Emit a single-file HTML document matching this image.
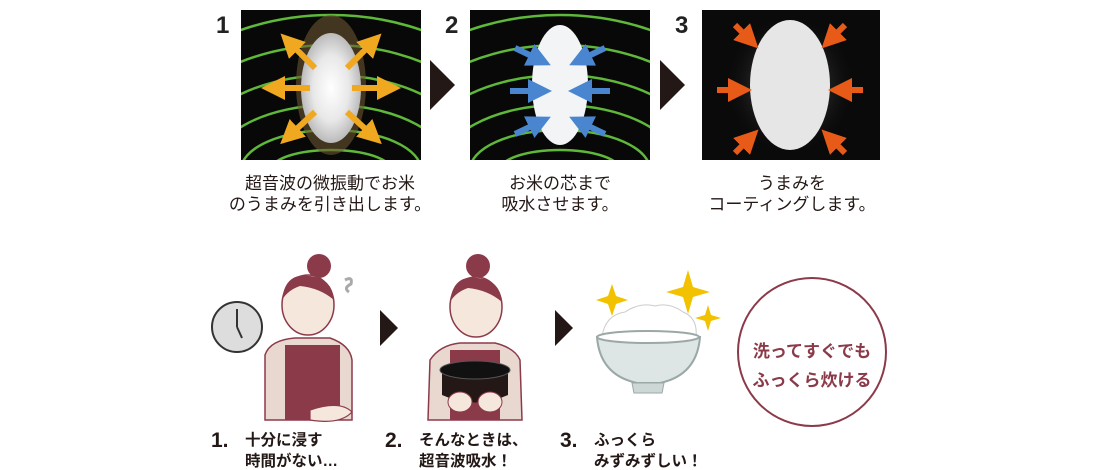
<!DOCTYPE html>
<html><head><meta charset="utf-8"><style>
html,body{margin:0;padding:0;background:#fff;}
svg{display:block;}
text{font-family:"Liberation Sans","Noto Sans CJK JP",sans-serif;}
</style></head><body>
<svg width="1100" height="470" viewBox="0 0 1100 470" xmlns="http://www.w3.org/2000/svg">
<defs>
<radialGradient id="g1" cx="50%" cy="50%" r="50%"><stop offset="0" stop-color="#fff"/><stop offset="0.6" stop-color="#e8e8e8"/><stop offset="1" stop-color="#bbb"/></radialGradient>
<radialGradient id="glow" cx="50%" cy="50%" r="50%"><stop offset="0" stop-color="#777"/><stop offset="1" stop-color="#000" stop-opacity="0"/></radialGradient>
<clipPath id="c1"><rect x="241" y="10" width="180" height="150"/></clipPath>
<clipPath id="c2"><rect x="470" y="10" width="180" height="150"/></clipPath>
<marker id="ao" markerWidth="4" markerHeight="4" refX="2" refY="2" orient="auto"><path d="M0 0 L4 2 L0 4 Z" fill="#f0a820"/></marker>
<marker id="ab" markerWidth="4" markerHeight="4" refX="2" refY="2" orient="auto"><path d="M0 0 L4 2 L0 4 Z" fill="#4a86d0"/></marker>
<marker id="ar" markerWidth="4" markerHeight="4" refX="2" refY="2" orient="auto"><path d="M0 0 L4 2 L0 4 Z" fill="#e85a18"/></marker>
</defs>
<text x="216" y="33" font-size="24" font-weight="bold" fill="#222">1</text>
<text x="445" y="33" font-size="24" font-weight="bold" fill="#222">2</text>
<text x="675" y="33" font-size="24" font-weight="bold" fill="#222">3</text>
<!-- panel1 -->
<rect x="241" y="10" width="180" height="150" fill="#080808"/>
<g clip-path="url(#c1)" fill="none" stroke="#5fb83a" stroke-width="2.5">
<ellipse cx="331" cy="170" rx="60" ry="20"/><ellipse cx="331" cy="170" rx="90" ry="40"/><ellipse cx="331" cy="170" rx="120" ry="65"/><ellipse cx="331" cy="170" rx="150" ry="95"/><ellipse cx="331" cy="170" rx="180" ry="125"/><ellipse cx="331" cy="170" rx="210" ry="155"/>
</g>
<ellipse cx="331" cy="85" rx="35" ry="70" fill="#6b5530" opacity="0.6"/>
<ellipse cx="331" cy="88" rx="30" ry="55" fill="url(#g1)"/>
<g stroke="#f0a820" stroke-width="6">
<line x1="315" y1="68" x2="289" y2="42" marker-end="url(#ao)"/><line x1="347" y1="68" x2="373" y2="42" marker-end="url(#ao)"/>
<line x1="310" y1="88" x2="273" y2="88" marker-end="url(#ao)"/><line x1="352" y1="88" x2="389" y2="88" marker-end="url(#ao)"/>
<line x1="315" y1="112" x2="289" y2="136" marker-end="url(#ao)"/><line x1="347" y1="112" x2="373" y2="136" marker-end="url(#ao)"/>
</g>
<!-- panel2 -->
<rect x="470" y="10" width="180" height="150" fill="#080808"/>
<g clip-path="url(#c2)" fill="none" stroke="#5fb83a" stroke-width="2.5">
<ellipse cx="560" cy="170" rx="60" ry="20"/><ellipse cx="560" cy="170" rx="90" ry="40"/><ellipse cx="560" cy="170" rx="120" ry="65"/><ellipse cx="560" cy="170" rx="150" ry="95"/><ellipse cx="560" cy="170" rx="180" ry="125"/><ellipse cx="560" cy="170" rx="210" ry="155"/>
</g>
<ellipse cx="560" cy="85" rx="28" ry="60" fill="#f2f4f6"/>
<g stroke="#4a86d0" stroke-width="6">
<line x1="515" y1="48" x2="540" y2="60" marker-end="url(#ab)"/><line x1="605" y1="48" x2="580" y2="60" marker-end="url(#ab)"/>
<line x1="510" y1="91" x2="540" y2="91" marker-end="url(#ab)"/><line x1="610" y1="91" x2="580" y2="91" marker-end="url(#ab)"/>
<line x1="515" y1="134" x2="540" y2="122" marker-end="url(#ab)"/><line x1="605" y1="134" x2="580" y2="122" marker-end="url(#ab)"/>
</g>
<!-- panel3 -->
<rect x="702" y="10" width="178" height="150" fill="#0a0a0a"/>
<ellipse cx="790" cy="85" rx="70" ry="75" fill="url(#glow)"/>
<ellipse cx="790" cy="85" rx="40" ry="65" fill="#e6e6e6"/>
<g stroke="#e85a18" stroke-width="6">
<line x1="735" y1="25" x2="750" y2="40" marker-end="url(#ar)"/><line x1="845" y1="25" x2="830" y2="40" marker-end="url(#ar)"/>
<line x1="717" y1="90" x2="740" y2="90" marker-end="url(#ar)"/><line x1="863" y1="90" x2="840" y2="90" marker-end="url(#ar)"/>
<line x1="735" y1="153" x2="750" y2="138" marker-end="url(#ar)"/><line x1="845" y1="153" x2="830" y2="138" marker-end="url(#ar)"/>
</g>
<polygon points="430,60 455,85 430,110" fill="#231815"/>
<polygon points="660,60 685,85 660,110" fill="#231815"/>
<g font-size="17" fill="#231815" text-anchor="middle">
<text x="330" y="189">超音波の微振動でお米</text>
<text x="330" y="210">のうまみを引き出します。</text>
<text x="560" y="189">お米の芯まで</text>
<text x="560" y="210">吸水させます。</text>
<text x="792" y="189">うまみを</text>
<text x="792" y="210">コーティングします。</text>
</g>
<!-- clock -->
<circle cx="237" cy="327" r="25" fill="#ddd" stroke="#333" stroke-width="2"/>
<line x1="237" y1="327" x2="237" y2="309" stroke="#333" stroke-width="2"/>
<line x1="237" y1="327" x2="242" y2="338" stroke="#333" stroke-width="2"/>
<!-- woman 1 -->
<path d="M265 420 L265 355 Q270 340 295 338 L330 338 Q350 345 352 360 L352 420 Z" fill="#e9d8cf" stroke="#8b3a4a" stroke-width="1.5"/>
<path d="M285 345 L285 420 L340 420 L340 345 Z" fill="#8b3a4a"/>
<circle cx="319" cy="266" r="12" fill="#8b3a4a"/>
<ellipse cx="308" cy="305" rx="26" ry="30" fill="#f6e7dc" stroke="#8b3a4a" stroke-width="1.5"/>
<path d="M282 300 Q285 272 310 276 Q332 278 334 300 Q320 288 300 286 Q288 290 282 300 Z" fill="#8b3a4a"/>
<path d="M345 280 q8 -4 6 4 q-8 4 -2 8" stroke="#aaa" stroke-width="3" fill="none"/>
<path d="M310 410 Q340 400 352 412 Q340 425 310 420 Z" fill="#f6e7dc" stroke="#8b3a4a" stroke-width="1.2"/>
<polygon points="380,310 398,328 380,346" fill="#231815"/>
<polygon points="555,310 573,328 555,346" fill="#231815"/>
<!-- woman 2 -->
<path d="M428 420 L430 360 Q440 345 460 343 L495 343 Q515 348 520 360 L522 420 Z" fill="#e9d8cf" stroke="#8b3a4a" stroke-width="1.5"/>
<path d="M450 350 L450 420 L500 420 L500 350 Z" fill="#8b3a4a"/>
<circle cx="478" cy="266" r="12" fill="#8b3a4a"/>
<ellipse cx="476" cy="307" rx="26" ry="30" fill="#f6e7dc" stroke="#8b3a4a" stroke-width="1.5"/>
<path d="M450 302 Q453 274 478 278 Q500 280 502 302 Q488 290 468 288 Q456 292 450 302 Z" fill="#8b3a4a"/>
<path d="M442 370 L442 395 Q475 410 508 395 L508 370 Z" fill="#231815"/>
<ellipse cx="475" cy="370" rx="35" ry="9" fill="#111" stroke="#555"/>
<ellipse cx="460" cy="402" rx="12" ry="10" fill="#f6e7dc" stroke="#8b3a4a"/>
<ellipse cx="490" cy="402" rx="12" ry="10" fill="#f6e7dc" stroke="#8b3a4a"/>
<!-- bowl -->
<path d="M602 337 Q605 315 625 312 Q640 302 655 306 Q670 302 683 312 Q698 318 696 337 Z" fill="#fff" stroke="#ccc"/>
<path d="M597 337 L700 337 Q697 375 660 383 L637 383 Q600 375 597 337 Z" fill="#dde6e4" stroke="#9aa9a6" stroke-width="2"/>
<ellipse cx="648" cy="337" rx="51" ry="6" fill="#fff" stroke="#9aa9a6" stroke-width="2"/>
<path d="M632 383 L664 383 L662 393 L634 393 Z" fill="#cdd7d5" stroke="#9aa9a6"/>
<g fill="#f2c200">
<path d="M612 284 l4 12 l12 4 l-12 4 l-4 12 l-4 -12 l-12 -4 l12 -4 z"/>
<path d="M688 270 l5 17 l17 5 l-17 5 l-5 17 l-5 -17 l-17 -5 l17 -5 z"/>
<path d="M708 305 l3 10 l10 3 l-10 3 l-3 10 l-3 -10 l-10 -3 l10 -3 z"/>
</g>
<circle cx="812" cy="352" r="74" fill="#fff" stroke="#8b3a4a" stroke-width="2"/>
<g font-size="17" font-weight="bold" fill="#8b3a4a" text-anchor="middle">
<text x="812" y="357">洗ってすぐでも</text>
<text x="812" y="386">ふっくら炊ける</text>
</g>
<g fill="#231815" font-weight="bold">
<text x="211" y="447" font-size="21">1.</text>
<text x="385" y="447" font-size="21">2.</text>
<text x="560" y="447" font-size="21">3.</text>
<g font-size="15.5">
<text x="245" y="445">十分に浸す</text><text x="245" y="466">時間がない…</text>
<text x="419" y="445">そんなときは、</text><text x="419" y="466">超音波吸水！</text>
<text x="594" y="445">ふっくら</text><text x="594" y="466">みずみずしい！</text>
</g></g>
</svg>
</body></html>
